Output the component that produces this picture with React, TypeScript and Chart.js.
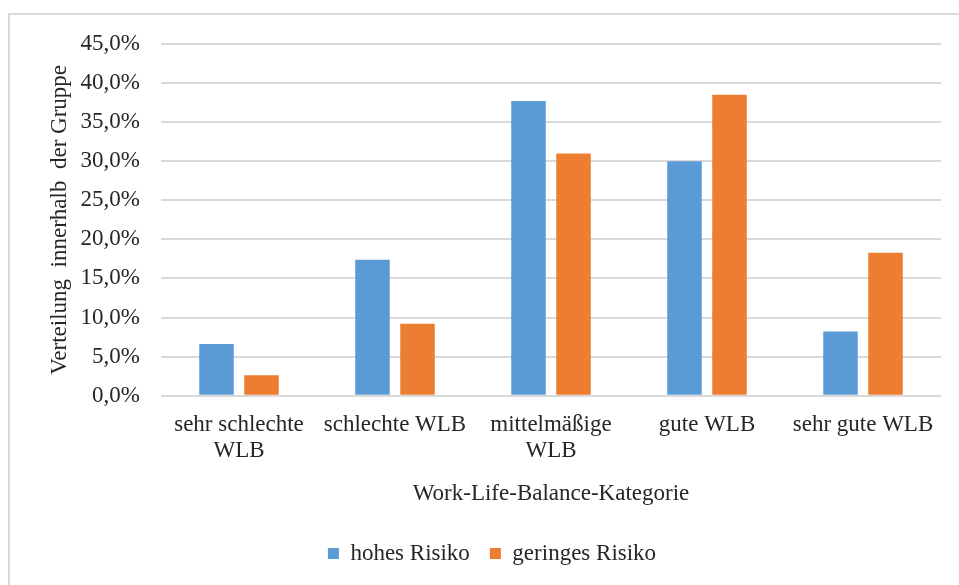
import React, { useEffect, useRef } from "react";
import { Chart, registerables } from "chart.js";

Chart.register(...registerables);

// Work-Life-Balance categories (x axis)
const categories: (string | string[])[] = [
  ["sehr schlechte", "WLB"],
  "schlechte WLB",
  ["mittelmäßige", "WLB"],
  "gute WLB",
  "sehr gute WLB",
];

// Share within each group, in percent
const hohesRisiko = [6.6, 17.4, 37.7, 30.0, 8.2];
const geringesRisiko = [2.6, 9.2, 31.0, 38.5, 18.3];

const seriesNames = ["hohes Risiko", "geringes Risiko"];
const seriesColors = ["#5B9BD5", "#ED7D31"];

const yMin = 0;
const yMax = 45;
const yStep = 5;

const FONT = "'Liberation Serif', 'Times New Roman', serif";
const TEXT = "#262626";
const GRID = "#d9d9d9";
const SIZE = 23;

// light frame around the chart
const framePlugin = {
  id: "frame",
  beforeDraw(chart: Chart) {
    const { ctx, width, height } = chart;
    ctx.save();
    ctx.fillStyle = "#ffffff";
    ctx.fillRect(0, 0, width, height);
    ctx.strokeStyle = GRID;
    ctx.lineWidth = 2;
    ctx.beginPath();
    ctx.moveTo(9, height + 2);
    ctx.lineTo(9, 14);
    ctx.lineTo(width + 2, 14);
    ctx.stroke();
    ctx.restore();
  },
};

export default function App() {
  const canvasRef = useRef<HTMLCanvasElement | null>(null);

  useEffect(() => {
    if (!canvasRef.current) return;
    const chart = new Chart(canvasRef.current, {
      type: "bar",
      data: {
        labels: categories,
        datasets: [
          {
            label: seriesNames[0],
            data: hohesRisiko,
            backgroundColor: seriesColors[0],
          },
          {
            label: seriesNames[1],
            data: geringesRisiko,
            backgroundColor: seriesColors[1],
          },
        ],
      },
      options: {
        responsive: true,
        maintainAspectRatio: false,
        animation: false,
        categoryPercentage: 0.577,
        barPercentage: 0.767,
        layout: { padding: { top: 44, right: 18, bottom: 10, left: 43 } },
        plugins: {
          tooltip: { enabled: false },
          legend: {
            position: "bottom",
            labels: {
              boxWidth: 11,
              boxHeight: 11,
              padding: 20,
              color: TEXT,
              font: { family: FONT, size: SIZE },
            },
          },
        },
        scales: {
          x: {
            grid: { display: false, drawTicks: false },
            border: { display: false },
            ticks: {
              color: TEXT,
              padding: 16,
              maxRotation: 0,
              autoSkip: false,
              font: { family: FONT, size: SIZE, lineHeight: 1.15 },
            },
            title: {
              display: true,
              text: "Work-Life-Balance-Kategorie",
              color: TEXT,
              font: { family: FONT, size: SIZE, lineHeight: 1.15 },
              padding: { top: 0, bottom: 15 },
            },
          },
          y: {
            min: yMin,
            max: yMax,
            grid: { color: GRID, lineWidth: 2, drawTicks: false },
            border: { display: false },
            ticks: {
              stepSize: yStep,
              color: TEXT,
              padding: 21,
              font: { family: FONT, size: SIZE },
              callback: (v: any) => Number(v).toFixed(1).replace(".", ",") + "%",
            },
            title: {
              display: true,
              text: "Verteilung  innerhalb  der Gruppe",
              color: TEXT,
              font: { family: FONT, size: 23, lineHeight: 1.15 },
              padding: { top: 4, bottom: 4 },
            },
            afterFit(scale: any) {
              scale.width = 118;
            },
          },
        },
      },
      plugins: [framePlugin],
    });
    return () => chart.destroy();
  }, []);

  return (
    <div style={{ position: "fixed", left: 0, top: 0, width: 959, height: 585 }}>
      <canvas ref={canvasRef} />
    </div>
  );
}
